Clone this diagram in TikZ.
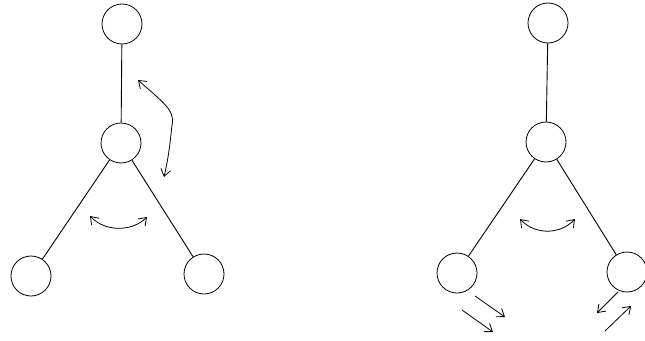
\documentclass[tikz,border=0pt]{standalone}
\usetikzlibrary{arrows.meta}
\begin{document}
\begin{tikzpicture}[x=1pt,y=-1pt,
  ball/.style={draw,circle,minimum size=40pt,inner sep=0pt,line width=0.8pt},
  rod/.style={line width=0.9pt},
  mv/.style={line width=0.8pt,arrows={-Straight Barb[length=7pt,width=10pt]}},
  mvb/.style={line width=0.8pt,arrows={Straight Barb[length=7pt,width=10pt]-Straight Barb[length=7pt,width=10pt]}}]
\useasboundingbox (0,0) rectangle (645,340);
\clip (0,0) rectangle (645,340);
% left molecule
\node[ball] (lt) at (122,24) {};
\node[ball] (lm) at (121,143) {};
\node[ball] (lbl) at (31,276) {};
\node[ball] (lbr) at (204,274) {};
\draw[rod] (lt) -- (lm);
\draw[rod] (lm) -- (lbl);
\draw[rod] (lm) -- (lbr);
\coordinate (la1) at (138,80);
\coordinate (la2) at (164,177);
\draw[mvb] (la1) .. controls (160,100) and (176,110) .. (172,125) .. controls (170,145) and (168,160) .. (la2);
\coordinate (lb1) at (90,216);
\coordinate (lb2) at (147,217);
\draw[mvb] (lb1) .. controls (105,232) and (132,232) .. (lb2);
% right molecule
\node[ball] (rt) at (548,23) {};
\node[ball] (rm) at (546,142) {};
\node[ball] (rbl) at (457,273) {};
\node[ball] (rbr) at (627,272) {};
\draw[rod] (rt) -- (rm);
\draw[rod] (rm) -- (rbl);
\draw[rod] (rm) -- (rbr);
\coordinate (rb1) at (520,219);
\coordinate (rb2) at (575,219);
\draw[mvb] (rb1) .. controls (535,235) and (560,235) .. (rb2);
% bond stretching arrows
\coordinate (s1a) at (475,296);
\coordinate (s1b) at (505,317);
\coordinate (s2a) at (462,310);
\coordinate (s2b) at (493,332);
\draw[mv] (s1a) -- (s1b);
\draw[mv] (s2a) -- (s2b);
\coordinate (s3a) at (618,292);
\coordinate (s3b) at (597,313);
\coordinate (s4a) at (605,331);
\coordinate (s4b) at (631,306);
\draw[mv] (s3a) -- (s3b);
\draw[mv] (s4a) -- (s4b);
\end{tikzpicture}
\end{document}
